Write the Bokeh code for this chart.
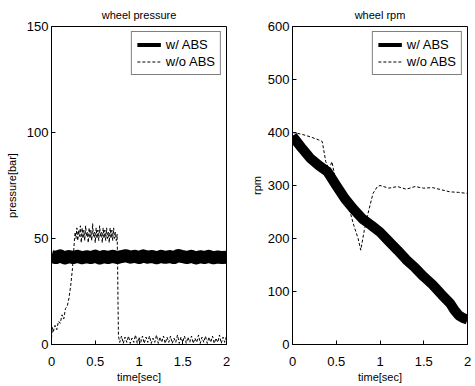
from bokeh.plotting import figure
from bokeh.layouts import row
from bokeh.models import Legend, LegendItem, FixedTicker, Range1d
from bokeh.embed import file_html
from bokeh.resources import INLINE

# ---------------- data: wheel pressure ----------------
t_p_abs = [0.0, 0.05, 0.1, 0.15, 0.2, 0.25, 0.3, 0.35, 0.4, 0.45, 0.5, 0.55, 0.6, 0.65, 0.7,
           0.75, 0.8, 0.85, 0.9, 0.95, 1.0, 1.05, 1.1, 1.15, 1.2, 1.25, 1.3, 1.35, 1.4, 1.45,
           1.5, 1.55, 1.6, 1.65, 1.7, 1.75, 1.8, 1.85, 1.9, 1.95, 2.0]
p_abs = [41.5, 41, 41.8, 40.8, 41.5, 41, 41.6, 40.9, 41.4, 41, 41.7, 40.8, 41.5, 41, 41.6,
         41, 41.5, 41.9, 41.2, 41.6, 41, 41.8, 41.2, 41.5, 40.9, 41.6, 41.1, 41.5, 41, 42,
         41.4, 41, 41.6, 40.8, 41.4, 41, 41.6, 40.9, 41.3, 41, 41.2]

t_p_noabs = [0.0, 0.01, 0.02, 0.04, 0.06, 0.08, 0.1, 0.12, 0.14, 0.16, 0.18, 0.2, 0.22, 0.24,
             0.25, 0.26, 0.27, 0.28, 0.29, 0.30, 0.31, 0.32, 0.33, 0.34, 0.35, 0.36, 0.37, 0.38,
             0.39, 0.40, 0.41, 0.42, 0.43, 0.44, 0.45, 0.46, 0.47, 0.48, 0.49, 0.50, 0.51, 0.52,
             0.53, 0.54, 0.55, 0.56, 0.57, 0.58, 0.59, 0.60, 0.61, 0.62, 0.63, 0.64, 0.65, 0.66,
             0.67, 0.68, 0.69, 0.70, 0.71, 0.72, 0.73, 0.74, 0.75, 0.755, 0.76, 0.765,
             0.78, 0.80, 0.82, 0.84, 0.86, 0.88, 0.90, 0.92, 0.94, 0.96, 0.98, 1.00, 1.02, 1.04,
             1.06, 1.08, 1.10, 1.12, 1.14, 1.16, 1.18, 1.20, 1.22, 1.24, 1.26, 1.28, 1.30, 1.32,
             1.34, 1.36, 1.38, 1.40, 1.42, 1.44, 1.46, 1.48, 1.50, 1.52, 1.54, 1.56, 1.58, 1.60,
             1.62, 1.64, 1.66, 1.68, 1.70, 1.72, 1.74, 1.76, 1.78, 1.80, 1.82, 1.84, 1.86, 1.88,
             1.90, 1.92, 1.94, 1.96, 1.98, 2.0]
p_noabs = [3, 8, 6, 9, 7, 11, 10, 14, 12, 17, 18, 22, 28, 36,
           42, 48, 53, 50, 55, 49, 54, 51, 56, 48, 55, 50, 54, 49,
           56, 51, 53, 48, 55, 50, 54, 49, 57, 51, 53, 48, 55, 50,
           54, 49, 56, 51, 53, 48, 55, 50, 54, 49, 55, 50, 53, 48,
           55, 50, 54, 49, 55, 50, 53, 49, 52, 40, 20, 4,
           1, 4, 0.5, 3.5, 1, 4, 0.5, 3, 1, 4.5, 0.5, 3.5, 1, 4,
           0.5, 3.5, 1, 4, 0.5, 3, 1, 4.5, 0.5, 3.5, 1, 4, 0.5, 3.5,
           1, 4, 0.5, 3, 1, 4.5, 0.5, 3.5, 1, 4, 0.5, 3.5, 1, 4,
           0.5, 3, 1, 4.5, 0.5, 3.5, 1, 4, 0.5, 3.5, 1, 4, 0.5, 3,
           1, 4.5, 0.5, 3.5, 1, 4]

# ---------------- data: wheel rpm ----------------
t_r_abs = [0.0, 0.1, 0.2, 0.3, 0.4, 0.5, 0.6, 0.7, 0.8, 0.9, 1.0, 1.1, 1.2, 1.3, 1.4,
           1.5, 1.6, 1.7, 1.8, 1.85, 1.9, 1.95, 2.0]
r_abs = [393, 372, 352, 338, 326, 300, 275, 255, 237, 225, 212, 195, 178, 160, 145,
         128, 113, 95, 78, 65, 55, 50, 47]

t_r_noabs = [0.0, 0.1, 0.2, 0.3, 0.34, 0.38, 0.42, 0.45, 0.5, 0.55, 0.6, 0.65, 0.7, 0.75,
             0.78, 0.82, 0.87, 0.92, 0.97, 1.0, 1.1, 1.2, 1.3, 1.4, 1.5, 1.6, 1.7, 1.8, 1.9, 2.0]
r_noabs = [400, 397, 392, 386, 383, 345, 330, 345, 305, 285, 270, 255, 225, 200,
           178, 215, 252, 285, 298, 300, 295, 298, 293, 298, 295, 296, 292, 288, 287, 285]

series_labels = ["w/ ABS", "w/o ABS"]
x_ticks = [0, 0.5, 1, 1.5, 2]
x_tick_labels = {0: "0", 0.5: "0.5", 1: "1", 1.5: "1.5", 2: "2"}
p_ticks = [0, 50, 100, 150]
r_ticks = [0, 100, 200, 300, 400, 500, 600]

FONT = "Liberation Sans"


def style(p, yticks, ylabel, title, ylabel_standoff):
    p.title.text = title
    p.title.align = "center"
    p.title.text_font = FONT
    p.title.text_font_size = "11px"
    p.title.text_font_style = "normal"
    p.title.text_color = "black"
    p.title.standoff = 12
    p.title.offset = 0
    p.outline_line_color = "black"
    p.outline_line_width = 1
    p.outline_line_alpha = 1
    p.xgrid.visible = False
    p.ygrid.visible = False
    p.xaxis.ticker = FixedTicker(ticks=x_ticks)
    p.xaxis.major_label_overrides = x_tick_labels
    p.yaxis.ticker = FixedTicker(ticks=yticks)
    for ax in (p.xaxis[0], p.yaxis[0]):
        ax.major_tick_in = 4
        ax.major_tick_out = 0
        ax.minor_tick_line_color = None
        ax.axis_line_color = "black"
        ax.major_label_text_font = FONT
        ax.major_label_text_font_size = "13px"
        ax.major_label_text_color = "black"
        ax.axis_label_text_font = FONT
        ax.axis_label_text_font_size = "11px"
        ax.axis_label_text_font_style = "normal"
        ax.axis_label_text_color = "black"
    p.xaxis.major_label_standoff = 12
    p.yaxis.major_label_standoff = 3
    p.xaxis.axis_label = "time[sec]"
    p.xaxis.axis_label_standoff = 2
    p.yaxis.axis_label = ylabel
    p.yaxis.axis_label_standoff = ylabel_standoff


def draw(p, t_a, v_a, thick, t_b, v_b):
    # thin copy of the first segment (hidden under the thick band) used as legend swatch
    swatch = p.line(t_a[:2], v_a[:2], line_color="black", line_width=4)
    p.line(t_a, v_a, line_color="black", line_width=thick, line_join="round")
    dashed = p.line(t_b, v_b, line_color="black", line_width=1, line_dash="3 2")
    leg = Legend(items=[LegendItem(label=series_labels[0], renderers=[swatch]),
                        LegendItem(label=series_labels[1], renderers=[dashed])],
                 location="top_right")
    leg.border_line_color = "black"
    leg.border_line_width = 1
    leg.background_fill_alpha = 1
    leg.label_text_font = FONT
    leg.label_text_font_size = "13px"
    leg.label_text_color = "black"
    leg.label_height = 13
    leg.glyph_height = 13
    leg.glyph_width = 24
    leg.label_standoff = 5
    leg.padding = 5
    leg.spacing = 2
    leg.margin = 5
    p.add_layout(leg)


p1 = figure(width=240, height=385, output_backend="svg", toolbar_location=None,
            x_range=Range1d(0, 2), y_range=Range1d(0, 150),
            min_border_left=51, min_border_right=14, min_border_top=24, min_border_bottom=38)
style(p1, p_ticks, "pressure[bar]", "wheel pressure", 6)
draw(p1, t_p_abs, p_abs, 13, t_p_noabs, p_noabs)

p2 = figure(width=234, height=385, output_backend="svg", toolbar_location=None,
            x_range=Range1d(0, 2), y_range=Range1d(0, 600),
            min_border_left=52, min_border_right=7, min_border_top=24, min_border_bottom=38)
style(p2, r_ticks, "rpm", "wheel rpm", 2)
draw(p2, t_r_abs, r_abs, 10, t_r_noabs, r_noabs)

layout = row(p1, p2)
open("out.html", "w").write(file_html(layout, INLINE))
